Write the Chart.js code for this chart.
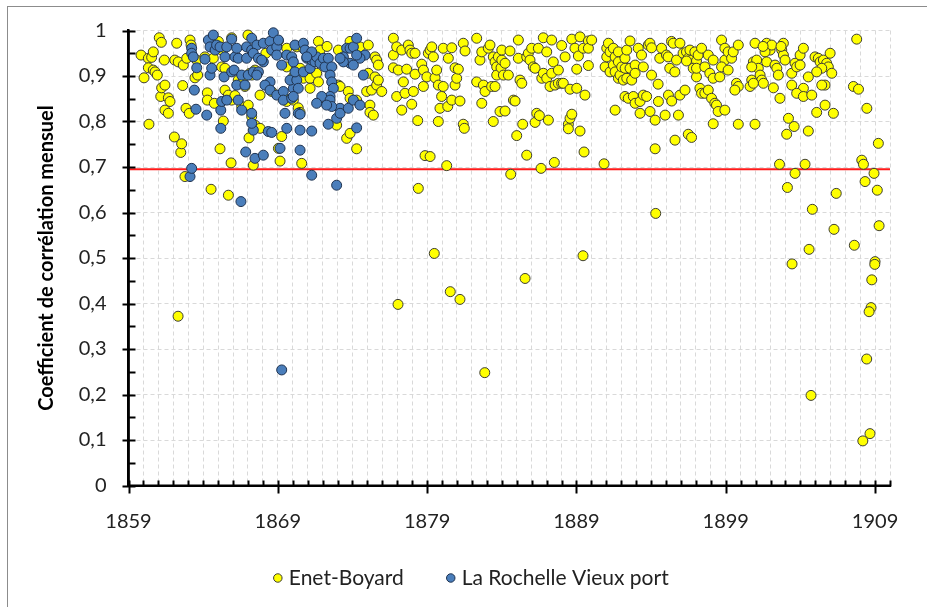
<!DOCTYPE html>
<html>
<head>
<meta charset="utf-8">
<script src="https://cdn.jsdelivr.net/npm/chart.js@4.4.1/dist/chart.umd.min.js"></script>
<style>
  html, body { margin: 0; padding: 0; background: #ffffff; }
  #wrap { position: relative; width: 927px; height: 607px; }
  canvas { display: block; }
</style>
</head>
<body>
<div id="wrap"><canvas id="c" width="927" height="607"></canvas></div>
<script>
// ---- Data (year, monthly correlation coefficient) ----
const seriesNames = ['Enet-Boyard', 'La Rochelle Vieux port'];

const enetBoyard = [
  [1859.84,.946],[1860.04,.896],[1860.33,.939],[1860.33,.918],[1860.37,.794],[1860.55,.941],[1860.66,.953],[1860.66,.913],[1860.78,.909],[1860.93,.902],
  [1861.06,.984],[1861.16,.855],[1861.2,.974],[1861.22,.874],[1861.4,.935],[1861.44,.880],[1861.44,.825],[1861.67,.852],[1861.67,.818],[1861.78,.844],
  [1862.07,.766],[1862.1,.935],[1862.23,.972],[1862.32,.372],[1862.33,.931],[1862.5,.732],[1862.56,.751],[1862.63,.879],[1862.67,.924],[1862.78,.679],
  [1862.85,.829],[1862.9,.939],[1863.07,.818],[1863.12,.979],[1863.19,.968],[1863.45,.896],[1863.57,.935],[1863.63,.902],[1864.12,.942],[1864.28,.863],
  [1864.28,.847],[1864.53,.651],[1864.68,.939],[1864.75,.840],[1865.02,.976],[1865.13,.740],[1865.24,.920],[1865.24,.957],[1865.35,.801],[1865.46,.917],
  [1865.46,.869],[1865.69,.858],[1865.69,.638],[1865.87,.709],[1865.91,.847],[1865.91,.984],[1866.13,.857],[1866.35,.891],[1866.58,.833],[1866.69,.895],
  [1866.8,.877],[1867.0,.990],[1867.02,.836],[1867.07,.764],
  [1867.14,.906],[1867.25,.902],[1867.25,.811],[1867.36,.704],[1867.47,.913],[1867.47,.792],[1867.81,.858],[1867.81,.785],[1868.2,.950],[1868.59,.866],
  [1869.04,.977],[1869.04,.741],[1869.15,.713],[1869.26,.767],[1869.37,.855],[1869.6,.961],[1869.6,.920],[1869.6,.844],[1870.04,.898],[1870.04,.847],
  [1870.27,.964],[1870.37,.830],[1870.49,.917],[1870.49,.820],[1870.6,.708],[1870.71,.961],[1870.71,.895],[1871.0,.940],[1871.05,.909],[1871.16,.895],
  [1871.16,.873],[1871.6,.906],[1871.72,.976],[1871.72,.887],[1871.83,.957],[1872.3,.965],[1872.94,.792],[1873.06,.957],[1873.06,.880],[1873.17,.877],
  [1873.61,.763],[1873.72,.866],[1873.84,.976],[1873.84,.851],[1873.84,.774],[1874.28,.847],[1874.28,.740],[1874.5,.964],[1874.95,.866],[1875.06,.968],
  [1875.06,.906],[1875.17,.836],[1875.17,.820],[1875.28,.869],[1875.4,.814],[1875.51,.942],[1875.51,.898],[1875.62,.935],[1875.62,.880],[1875.73,.924],
  [1875.73,.891],[1875.96,.866],
  [1876.74,.983],[1876.74,.946],[1876.74,.918],[1876.96,.964],[1876.96,.855],[1877.05,.398],[1877.07,.913],[1877.3,.957],[1877.3,.825],[1877.41,.887],
  [1877.52,.862],[1877.63,.915],[1877.74,.968],[1877.85,.957],[1877.97,.950],[1877.97,.838],[1878.08,.866],[1878.19,.950],[1878.19,.904],[1878.37,.802],
  [1878.41,.653],[1878.64,.926],[1878.75,.913],[1878.75,.877],[1878.86,.725],[1878.98,.898],[1879.08,.950],[1879.2,.957],[1879.2,.723],[1879.31,.964],
  [1879.42,.942],[1879.48,.510],[1879.53,.896],[1879.64,.913],[1879.75,.880],[1879.75,.800],[1879.86,.829],[1879.97,.855],[1880.08,.961],[1880.08,.877],
  [1880.31,.703],[1880.38,.833],[1880.42,.939],[1880.55,.426],[1880.65,.962],[1880.65,.847],[1880.87,.918],[1880.87,.880],[1880.98,.895],[1881.09,.915],
  [1881.2,.845],[1881.2,.409],[1881.42,.972],[1881.42,.794],[1881.49,.785],[1881.54,.955],[1882.32,.983],[1882.32,.887],[1882.54,.935],[1882.66,.953],
  [1882.66,.840],[1882.77,.880],[1882.86,.248],[1882.88,.866],[1883.1,.961],[1883.21,.968],[1883.32,.877],[1883.43,.942],[1883.43,.800],[1883.55,.931],
  [1883.55,.877],[1883.66,.920],[1883.66,.902],[1883.77,.942],[1883.88,.822],[1883.95,.918],[1884.0,.935],[1884.11,.902],
  [1884.0,.957],[1884.22,.928],[1884.22,.823],[1884.44,.902],[1884.55,.955],[1884.6,.684],[1884.78,.847],[1884.89,.845],[1885.0,.769],[1885.11,.979],
  [1885.11,.939],[1885.22,.891],[1885.34,.884],[1885.4,.794],[1885.56,.455],[1885.67,.942],[1885.67,.726],[1885.78,.950],[1885.89,.935],[1886.0,.961],
  [1886.11,.920],[1886.23,.917],[1886.23,.798],[1886.34,.818],[1886.45,.961],[1886.52,.813],[1886.63,.697],[1886.68,.895],[1886.78,.984],[1886.78,.906],
  [1887.01,.953],[1887.01,.895],[1887.12,.803],[1887.23,.877],[1887.34,.979],[1887.34,.906],[1887.45,.931],[1887.52,.710],[1887.57,.880],[1887.79,.913],
  [1887.79,.884],[1888.01,.967],[1888.01,.884],[1888.12,.884],[1888.24,.942],[1888.46,.794],[1888.46,.784],[1888.57,.871],[1888.57,.807],[1888.69,.981],
  [1888.69,.816],[1888.9,.961],[1889.02,.915],[1889.02,.873],[1889.13,.944],[1889.24,.986],[1889.24,.779],[1889.44,.505],[1889.46,.961],[1889.51,.733],
  [1889.57,.858],[1889.8,.977],[1889.8,.961],[1889.8,.923],[1890.02,.979],[1890.85,.707],[1890.92,.920],[1891.03,.961],[1891.03,.942],[1891.14,.972],
  [1891.25,.953],[1891.25,.909],[1891.47,.961],[1891.47,.924],[1891.59,.942],[1891.59,.909],[1891.59,.825],[1891.81,.953],[1891.81,.931],[1891.81,.895],
  [1891.92,.902],[1892.03,.920],[1892.14,.891],[1892.25,.939],[1892.25,.855],[1892.37,.957],[1892.37,.895],[1892.47,.917],[1892.47,.851],
  [1892.59,.977],[1893.14,.961],[1893.36,.946],[1893.81,.968],[1893.92,.972],[1894.03,.962],[1894.7,.961],[1894.58,.939],[1895.03,.946],[1895.14,.942],
  [1895.37,.976],[1895.48,.972],[1895.93,.972],[1895.7,.935],[1896.14,.950],[1896.37,.953],[1896.48,.939],[1896.6,.957],[1896.71,.935],[1896.93,.953],
  [1897.04,.933],[1897.15,.946],[1897.38,.961],[1897.83,.946],[1898.16,.935],[1898.72,.979],[1898.94,.961],[1898.94,.935],[1899.16,.953],[1899.39,.939],
  [1899.5,.953],[1899.84,.968],
  [1892.26,.917],[1892.59,.917],[1892.93,.924],[1893.48,.920],[1892.7,.891],[1892.93,.906],[1894.03,.902],[1894.47,.882],[1895.25,.917],[1895.59,.909],
  [1896.37,.933],[1896.82,.917],[1897.04,.898],[1897.04,.917],[1897.6,.920],[1897.93,.906],[1898.16,.895],[1898.6,.898],[1898.72,.920],[1899.16,.913],
  [1899.72,.884],[1899.84,.877],[1899.61,.869],
  [1892.81,.855],[1892.93,.840],[1893.26,.844],[1893.48,.858],[1893.7,.855],[1893.26,.818],[1893.93,.822],[1894.27,.803],[1894.49,.844],[1894.94,.814],
  [1895.16,.858],[1895.38,.845],[1895.83,.814],[1895.93,.858],[1896.27,.869],[1897.27,.873],[1897.38,.862],[1897.6,.862],[1897.83,.869],[1898.05,.851],
  [1898.27,.840],[1898.38,.836],[1898.49,.822],[1898.94,.825],[1898.16,.795],[1895.6,.759],[1896.49,.772],[1896.71,.765],[1894.27,.740],[1894.31,.598],
  [1899.84,.794],[1900.85,.931],[1900.74,.891],[1900.63,.877],
  [1900.96,.972],[1901.74,.972],[1901.97,.957],[1902.08,.968],[1901.63,.953],[1901.74,.931],[1901.07,.935],[1901.18,.917],[1900.74,.920],[1901.3,.902],
  [1901.41,.891],[1901.52,.884],[1900.85,.884],[1902.86,.972],[1902.75,.957],[1902.86,.946],[1902.97,.935],[1902.3,.924],[1902.42,.917],[1902.52,.902],
  [1903.42,.906],[1903.64,.928],[1903.75,.920],[1903.98,.946],[1904.2,.961],[1903.98,.924],[1904.98,.942],[1905.2,.939],[1905.32,.931],[1905.54,.935],
  [1905.76,.928],[1905.87,.920],[1905.99,.950],[1906.1,.906],[1905.43,.917],[1905.09,.909],[1904.53,.898],[1903.42,.880],[1904.2,.873],[1903.75,.862],
  [1904.2,.855],[1904.76,.858],[1902.19,.874],[1902.63,.851],[1905.65,.880],[1905.43,.880],[1905.65,.836],[1905.09,.820],[1906.21,.818],[1907.55,.877],
  [1907.89,.871],[1908.45,.829],[1907.77,.981],[1903.2,.807],[1903.58,.789],[1903.08,.772],[1904.53,.779],[1900.96,.794],[1909.22,.752],[1902.6,.706],
  [1904.31,.706],[1903.64,.686],[1903.13,.655],[1906.4,.642],[1908.11,.715],[1908.22,.706],[1908.33,.668],[1908.93,.686],[1909.15,.649],[1904.8,.607],
  [1906.25,.563],[1907.61,.528],[1909.27,.571],[1904.58,.519],[1903.44,.487],[1909.0,.492],[1908.98,.486],[1908.78,.452],[1908.73,.391],[1908.6,.382],
  [1908.44,.278],[1904.71,.198],[1908.66,.114],[1908.18,.098],[1901.5,.965],[1902.7,.965]
];

const laRochelle = [
  [1863.12,.679],[1863.23,.961],[1863.23,.950],[1863.23,.697],[1863.34,.942],[1863.41,.869],[1863.52,.827],[1863.57,.918],[1864.12,.937],[1864.24,.814],
  [1864.35,.979],[1864.46,.964],[1864.46,.902],[1864.57,.917],[1864.68,.990],[1864.8,.957],[1864.9,.968],[1865.13,.964],[1865.18,.825],[1865.18,.785],
  [1865.24,.844],[1865.4,.898],[1865.46,.942],[1865.58,.964],[1865.58,.847],[1865.91,.909],[1865.91,.981],[1866.07,.913],[1866.13,.942],[1866.25,.961],
  [1866.25,.880],[1866.35,.847],[1866.35,.939],[1866.53,.624],[1866.58,.825],[1866.58,.902],[1866.8,.880],[1866.85,.733],[1866.91,.964],[1866.91,.939],
  [1867.02,.902],[1867.25,.818],[1867.25,.957],[1867.36,.781],[1867.36,.909],[1867.47,.719],
  [1867.25,.983],[1867.6,.968],[1868.03,.972],[1868.48,.976],[1868.7,.995],[1868.59,.957],[1868.93,.964],[1869.04,.979],[1867.36,.950],[1867.7,.939],
  [1868.03,.931],[1867.92,.935],[1868.93,.946],[1869.26,.924],[1869.6,.946],[1869.93,.942],[1870.04,.931],[1867.7,.909],[1867.59,.902],[1868.48,.887],
  [1868.14,.880],[1868.48,.869],[1868.93,.858],[1869.37,.866],[1869.37,.847],[1869.93,.851],[1870.04,.873],[1869.82,.891],[1870.27,.891],[1870.15,.909],
  [1870.37,.873],[1870.04,.855],[1870.71,.909],[1870.94,.939],[1871.16,.917],[1871.27,.935],[1871.49,.931],[1871.6,.942],[1871.83,.928],[1872.05,.939],
  [1872.16,.920],[1872.38,.939],[1872.61,.920],[1872.5,.902],[1872.61,.887],[1872.72,.873],[1872.5,.855],[1871.94,.855],[1871.6,.840],[1869.48,.818],
  [1870.37,.818],[1870.49,.816],[1869.6,.785],[1870.49,.781],[1871.27,.779],[1867.25,.796],[1868.36,.778],[1868.59,.776],[1869.15,.741],[1870.49,.737],
  [1868.03,.726],[1871.27,.682],[1872.94,.660],[1873.17,.829],[1872.94,.807],[1873.17,.818],[1873.72,.829],[1872.38,.794],[1874.28,.786],[1872.5,.847],
  [1872.61,.833],[1872.27,.836],[1874.06,.847],[1874.5,.836],[1873.61,.961],[1873.84,.961],[1874.06,.964],[1874.28,.983],[1874.84,.946],[1874.5,.939],
  [1874.73,.902],[1874.28,.946],[1873.39,.942],[1873.84,.928],[1874.06,.924],[1873.39,.931],[1873.17,.939],[1870.15,.968],[1870.71,.972],[1870.82,.957],
  [1871.27,.953],[1870.94,.942],[1869.26,.254]
];

// threshold (red line)
const thresholdYears = [1859, 1910];
const thresholdValue = 0.695;

// axes
const xMin = 1859, xMax = 1910;
const xTickLabels = [1859, 1869, 1879, 1889, 1899, 1909];
const yTickValues = [0, 0.1, 0.2, 0.3, 0.4, 0.5, 0.6, 0.7, 0.8, 0.9, 1];
const yTickLabels = ['0', '0,1', '0,2', '0,3', '0,4', '0,5', '0,6', '0,7', '0,8', '0,9', '1'];
const yAxisTitle = 'Coefficient de corrélation mensuel';

// ---- Drawing ----
Chart.defaults.font.family = 'Lato, "Open Sans", sans-serif';
Chart.defaults.color = '#222';

const LEGEND_TEXT_Y = 578;   // centre line of the legend row
const LEGEND_SHIFT_X = 28;
const LEGEND_BOX_H = 59.5;

const frameAndTicks = {
  id: 'frameAndTicks',
  beforeLayout(chart) {
    const lg = chart.legend;
    if (lg && !lg._fixedHeight) {
      const origFit = lg.fit;
      lg.fit = function () { origFit.call(this); this.height = LEGEND_BOX_H; };
      lg._fixedHeight = true;
    }
  },
  afterLayout(chart) {
    const lg = chart.legend;
    if (lg) {
      const pad = lg.options.labels.padding;
      const fs = lg.options.labels.font.size;
      lg.top = LEGEND_TEXT_Y - pad - fs / 2;
      lg.bottom = chart.height;
      lg.height = lg.bottom - lg.top;
      lg.left += LEGEND_SHIFT_X;
      lg.right += LEGEND_SHIFT_X;
    }
  },
  beforeDraw(chart) {
    const ctx = chart.ctx;
    ctx.save();
    ctx.strokeStyle = '#8c8c8c';
    ctx.lineWidth = 1;
    ctx.strokeRect(7.5, 6.5, 1000, 1000);
    ctx.restore();
  },
  afterDraw(chart) {
    const { ctx, chartArea, scales } = chart;
    const x = scales.x, y = scales.y;
    ctx.save();
    ctx.strokeStyle = '#000';
    ctx.lineWidth = 2.5;
    ctx.beginPath();
    ctx.moveTo(chartArea.left, chartArea.top);
    ctx.lineTo(chartArea.left, chartArea.bottom);
    ctx.stroke();
    ctx.lineWidth = 2;
    ctx.beginPath();
    ctx.moveTo(chartArea.left, chartArea.bottom);
    ctx.lineTo(chartArea.right, chartArea.bottom);
    ctx.stroke();
    x.ticks.forEach(t => {
      const px = Math.round(x.getPixelForValue(t.value)) + 0.5;
      const major = xTickLabels.includes(t.value);
      ctx.beginPath();
      ctx.moveTo(px, chartArea.bottom - 5);
      ctx.lineTo(px, chartArea.bottom + (major ? 8 : 1));
      ctx.stroke();
    });
    for (let k = 0; k <= 20; k++) {
      const v = k / 20;
      const py = Math.round(y.getPixelForValue(v)) + 0.5;
      const major = k % 2 === 0;
      ctx.beginPath();
      ctx.moveTo(chartArea.left - (major ? 6 : 0), py);
      ctx.lineTo(chartArea.left + 7, py);
      ctx.stroke();
    }
    ctx.restore();
  }
};

const toPts = arr => arr.map(p => ({ x: p[0], y: p[1] }));

new Chart(document.getElementById('c'), {
  type: 'scatter',
  data: {
    datasets: [
      {
        label: seriesNames[0],
        data: toPts(enetBoyard),
        backgroundColor: '#ffff00',
        borderColor: '#3d3d33',
        borderWidth: 1,
        pointRadius: 5,
        pointHoverRadius: 5,
        order: 2,
        clip: false
      },
      {
        label: seriesNames[1],
        data: toPts(laRochelle),
        backgroundColor: '#4a7ebb',
        borderColor: '#1f3350',
        borderWidth: 1,
        pointRadius: 5,
        pointHoverRadius: 5,
        order: 1,
        clip: false
      },
      {
        type: 'line',
        label: 'seuil',
        data: thresholdYears.map(yr => ({ x: yr, y: thresholdValue })),
        borderColor: '#ff1a1a',
        borderWidth: 2,
        pointRadius: 0,
        showLine: true,
        fill: false,
        order: 3
      }
    ]
  },
  options: {
    responsive: false,
    animation: false,
    devicePixelRatio: 1,
    layout: { padding: { top: 30.5, left: 0, right: 37, bottom: 0 } },
    plugins: {
      tooltip: { enabled: false },
      legend: {
        position: 'bottom',
        labels: {
          usePointStyle: true,
          pointStyle: 'circle',
          boxWidth: 1,
          boxHeight: 6,
          padding: 46.5,
          color: '#222',
          font: { size: 21 },
          filter: item => item.datasetIndex !== 2,
          sort: (a, b) => a.datasetIndex - b.datasetIndex
        }
      }
    },
    scales: {
      x: {
        type: 'linear',
        min: xMin,
        max: xMax,
        afterBuildTicks: scale => {
          const t = [];
          for (let v = xMin; v <= xMax; v++) t.push({ value: v });
          scale.ticks = t;
        },
        afterFit: scale => { scale.height = 62; },
        grid: { color: '#d9d9d9', lineWidth: 1, drawTicks: false },
        border: { display: true, color: '#000', width: 2, dash: [4, 3] },
        ticks: {
          autoSkip: false,
          maxRotation: 0,
          padding: 24,
          color: '#222',
          font: { size: 20 },
          callback: v => (xTickLabels.includes(v) ? String(v) : '')
        }
      },
      y: {
        type: 'linear',
        min: 0,
        max: 1,
        afterBuildTicks: scale => { scale.ticks = yTickValues.map(v => ({ value: v })); },
        afterFit: scale => {
          scale.width = 128.5;
          scale.paddingTop = 12;
          scale.paddingBottom = 12;
        },
        grid: { color: '#d9d9d9', lineWidth: 1, drawTicks: false },
        border: { display: true, color: '#000', width: 2.5, dash: [4, 3] },
        ticks: {
          padding: 22,
          color: '#222',
          font: { size: 20 },
          callback: (v, i) => yTickLabels[i]
        },
        title: {
          display: true,
          text: yAxisTitle,
          color: '#000',
          font: { size: 20, weight: 'bold' },
          padding: { top: 35, bottom: 0 }
        }
      }
    }
  },
  plugins: [frameAndTicks]
});
</script>
</body>
</html>
